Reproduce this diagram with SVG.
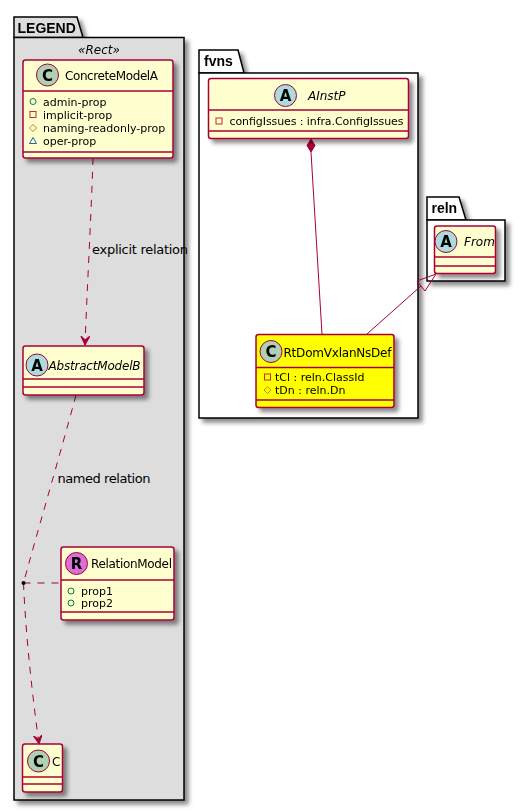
<svg xmlns="http://www.w3.org/2000/svg" width="525" height="811" viewBox="0 0 525 811">
<defs>
<filter id="sh" x="-10%" y="-10%" width="130%" height="130%">
<feGaussianBlur in="SourceAlpha" stdDeviation="2"/>
<feColorMatrix type="matrix" values="0 0 0 0 0  0 0 0 0 0  0 0 0 0 0  0 0 0 0.45 0"/>
<feOffset dx="4" dy="4" result="b"/>
<feMerge><feMergeNode in="b"/><feMergeNode in="SourceGraphic"/></feMerge>
</filter>
<marker id="arr" markerWidth="10" markerHeight="10" refX="9" refY="4.5" orient="auto" markerUnits="userSpaceOnUse">
<path d="M0,0 L9,4.5 L0,9 L4,4.5 Z" fill="#A80036" stroke="#A80036" stroke-width="1"/>
</marker>
</defs>
<style>
text{font-family:"DejaVu Sans","Liberation Sans",sans-serif;fill:#000}
.pkg{fill:#FFFFFF;stroke:#000;stroke-width:1.5}
.pkgL{fill:#DDDDDD;stroke:#000;stroke-width:1.5}
.ptab{font-family:"Liberation Sans",Arial,sans-serif;font-size:14px;font-weight:bold}
.box{fill:#FEFECE;stroke:#A80036;stroke-width:1.5}
.boxY{fill:#FFFF00;stroke:#A80036;stroke-width:1.5}
.div{stroke:#A80036;stroke-width:1.5}
.cn{font-size:12px}
.it{font-style:italic}
.at{font-size:11px}
.ccl{fill:#ADD1B2;stroke:#A80036;stroke-width:1}
.ccA{fill:#A9DCDF;stroke:#A80036;stroke-width:1}
.ccR{fill:#DA70D6;stroke:#A80036;stroke-width:1}
.lt{font-size:15px;font-weight:bold;text-anchor:middle}
.pub{fill:none;stroke:#038048;stroke-width:1}
.pri{fill:none;stroke:#C82930;stroke-width:1}
.pro{fill:none;stroke:#B38D22;stroke-width:1}
.pkgv{fill:none;stroke:#1963A0;stroke-width:1}
.e{fill:none;stroke:#A80036;stroke-width:1}
.d{stroke-dasharray:7,7}
.lbl{font-size:13px}
</style>

<g id="pkg-LEGEND" filter="url(#sh)">
<path class="pkgL" d="M14,37.5 L14,17 L77,17 L83,37.5 Z"/>
<rect class="pkgL" x="14" y="37.5" width="170" height="762.5"/>
<text class="ptab" x="17.5" y="33">LEGEND</text>
<text class="cn it" x="99" y="54" text-anchor="middle">«Rect»</text>
</g>

<g id="pkg-fvns" filter="url(#sh)">
<path class="pkg" d="M199,73 L199,50 L238,50 L244,73 Z"/>
<rect class="pkg" x="199" y="73" width="219" height="345"/>
<text class="ptab" x="204" y="66">fvns</text>
</g>

<g id="pkg-reln" filter="url(#sh)">
<path class="pkg" d="M427,220 L427,197 L459,197 L466,220 Z"/>
<rect class="pkg" x="427" y="220" width="78" height="61"/>
<text class="ptab" x="431.5" y="213">reln</text>
</g>

<g id="connectors">
<path class="e d" d="M93,158 C91,220 87,290 85,345" marker-end="url(#arr)"/>
<text class="lbl" x="92" y="254" textLength="96">explicit relation</text>
<path class="e d" d="M76,395 C60,455 35,540 23.5,583"/>
<path class="e d" d="M23.5,583 C26,640 33,700 39,744" marker-end="url(#arr)"/>
<path class="e d" d="M23.5,583 L61,583"/>
<circle cx="23.5" cy="583" r="2" fill="#000"/>
<text class="lbl" x="57.5" y="483" textLength="93">named relation</text>
<path class="e" d="M311,152 L322,334"/>
<path d="M311,139 L307,145.5 L311,152 L315,145.5 Z" fill="#A80036" stroke="#A80036" stroke-width="1"/>
<path class="e" d="M367,334 L421,286"/>
<path d="M436,274 L417,281 L425,291 Z" fill="none" stroke="#A80036" stroke-width="1"/>
</g>

<g id="ConcreteModelA" filter="url(#sh)">
<rect class="box" x="23" y="60" width="150" height="98" rx="2.5"/>
<line class="div" x1="23" y1="91" x2="173" y2="91"/>
<line class="div" x1="23" y1="152" x2="173" y2="152"/>
<circle class="ccl" cx="47.5" cy="75" r="11"/>
<text class="lt" x="47.5" y="80.5">C</text>
<text class="cn" x="65" y="80" textLength="93">ConcreteModelA</text>
<circle class="pub" cx="33" cy="101.5" r="3"/>
<text class="at" x="43" y="105.5">admin-prop</text>
<rect class="pri" x="30" y="111.5" width="6" height="6"/>
<text class="at" x="43" y="118.5">implicit-prop</text>
<path class="pro" d="M33,124.5 L36.5,128 L33,131.5 L29.5,128 Z"/>
<text class="at" x="43" y="131.5">naming-readonly-prop</text>
<path class="pkgv" d="M33,137.5 L36.5,143.5 L29.5,143.5 Z"/>
<text class="at" x="43" y="144.5">oper-prop</text>
</g>

<g id="AbstractModelB" filter="url(#sh)">
<rect class="box" x="23" y="346" width="121" height="49" rx="2.5"/>
<line class="div" x1="23" y1="379" x2="144" y2="379"/>
<line class="div" x1="23" y1="387" x2="144" y2="387"/>
<circle class="ccA" cx="37" cy="365" r="11"/>
<text class="lt" x="37" y="370.5">A</text>
<text class="cn it" x="48.5" y="370" textLength="92">AbstractModelB</text>
</g>

<g id="RelationModel" filter="url(#sh)">
<rect class="box" x="61" y="547" width="113" height="73" rx="2.5"/>
<line class="div" x1="61" y1="580" x2="174" y2="580"/>
<line class="div" x1="61" y1="612" x2="174" y2="612"/>
<circle class="ccR" cx="76.5" cy="563.5" r="11"/>
<text class="lt" x="76.5" y="569">R</text>
<text class="cn" x="91" y="568" textLength="81">RelationModel</text>
<circle class="pub" cx="71" cy="591" r="3"/>
<text class="at" x="81" y="595">prop1</text>
<circle class="pub" cx="71" cy="603" r="3"/>
<text class="at" x="81" y="607">prop2</text>
</g>

<g id="C" filter="url(#sh)">
<rect class="box" x="22.5" y="744" width="40" height="48" rx="2.5"/>
<line class="div" x1="22.5" y1="777" x2="62.5" y2="777"/>
<line class="div" x1="22.5" y1="784" x2="62.5" y2="784"/>
<circle class="ccl" cx="38.5" cy="761" r="11"/>
<text class="lt" x="38.5" y="766.5">C</text>
<text class="cn" x="52" y="765.5">C</text>
</g>

<g id="AInstP" filter="url(#sh)">
<rect class="box" x="208.5" y="78.5" width="200" height="60" rx="2.5"/>
<line class="div" x1="208.5" y1="110" x2="408.5" y2="110"/>
<line class="div" x1="208.5" y1="131" x2="408.5" y2="131"/>
<circle class="ccA" cx="285.5" cy="95.5" r="11"/>
<text class="lt" x="285.5" y="101">A</text>
<text class="cn it" x="308" y="100">AInstP</text>
<rect class="pri" x="216" y="118" width="6" height="6"/>
<text class="at" x="229.5" y="125" textLength="174">configIssues : infra.ConfigIssues</text>
</g>

<g id="RtDomVxlanNsDef" filter="url(#sh)">
<rect class="boxY" x="256" y="334.5" width="138" height="73" rx="2.5"/>
<line class="div" x1="256" y1="367.5" x2="394" y2="367.5"/>
<line class="div" x1="256" y1="400" x2="394" y2="400"/>
<circle class="ccl" cx="271" cy="351.5" r="11"/>
<text class="lt" x="271" y="357">C</text>
<text class="cn" x="283.5" y="357" textLength="108">RtDomVxlanNsDef</text>
<rect class="pri" x="264.5" y="374" width="6" height="6"/>
<text class="at" x="275" y="381">tCl : reln.ClassId</text>
<path class="pro" d="M267.5,386.5 L271,390 L267.5,393.5 L264,390 Z"/>
<text class="at" x="275" y="394">tDn : reln.Dn</text>
</g>

<g id="From" filter="url(#sh)">
<rect class="box" x="434.5" y="226" width="61" height="47.5" rx="2.5"/>
<line class="div" x1="434.5" y1="257" x2="495.5" y2="257"/>
<line class="div" x1="434.5" y1="266" x2="495.5" y2="266"/>
<circle class="ccA" cx="446" cy="241.5" r="11"/>
<text class="lt" x="446" y="247">A</text>
<text class="cn it" x="464" y="246">From</text>
</g>
</svg>
